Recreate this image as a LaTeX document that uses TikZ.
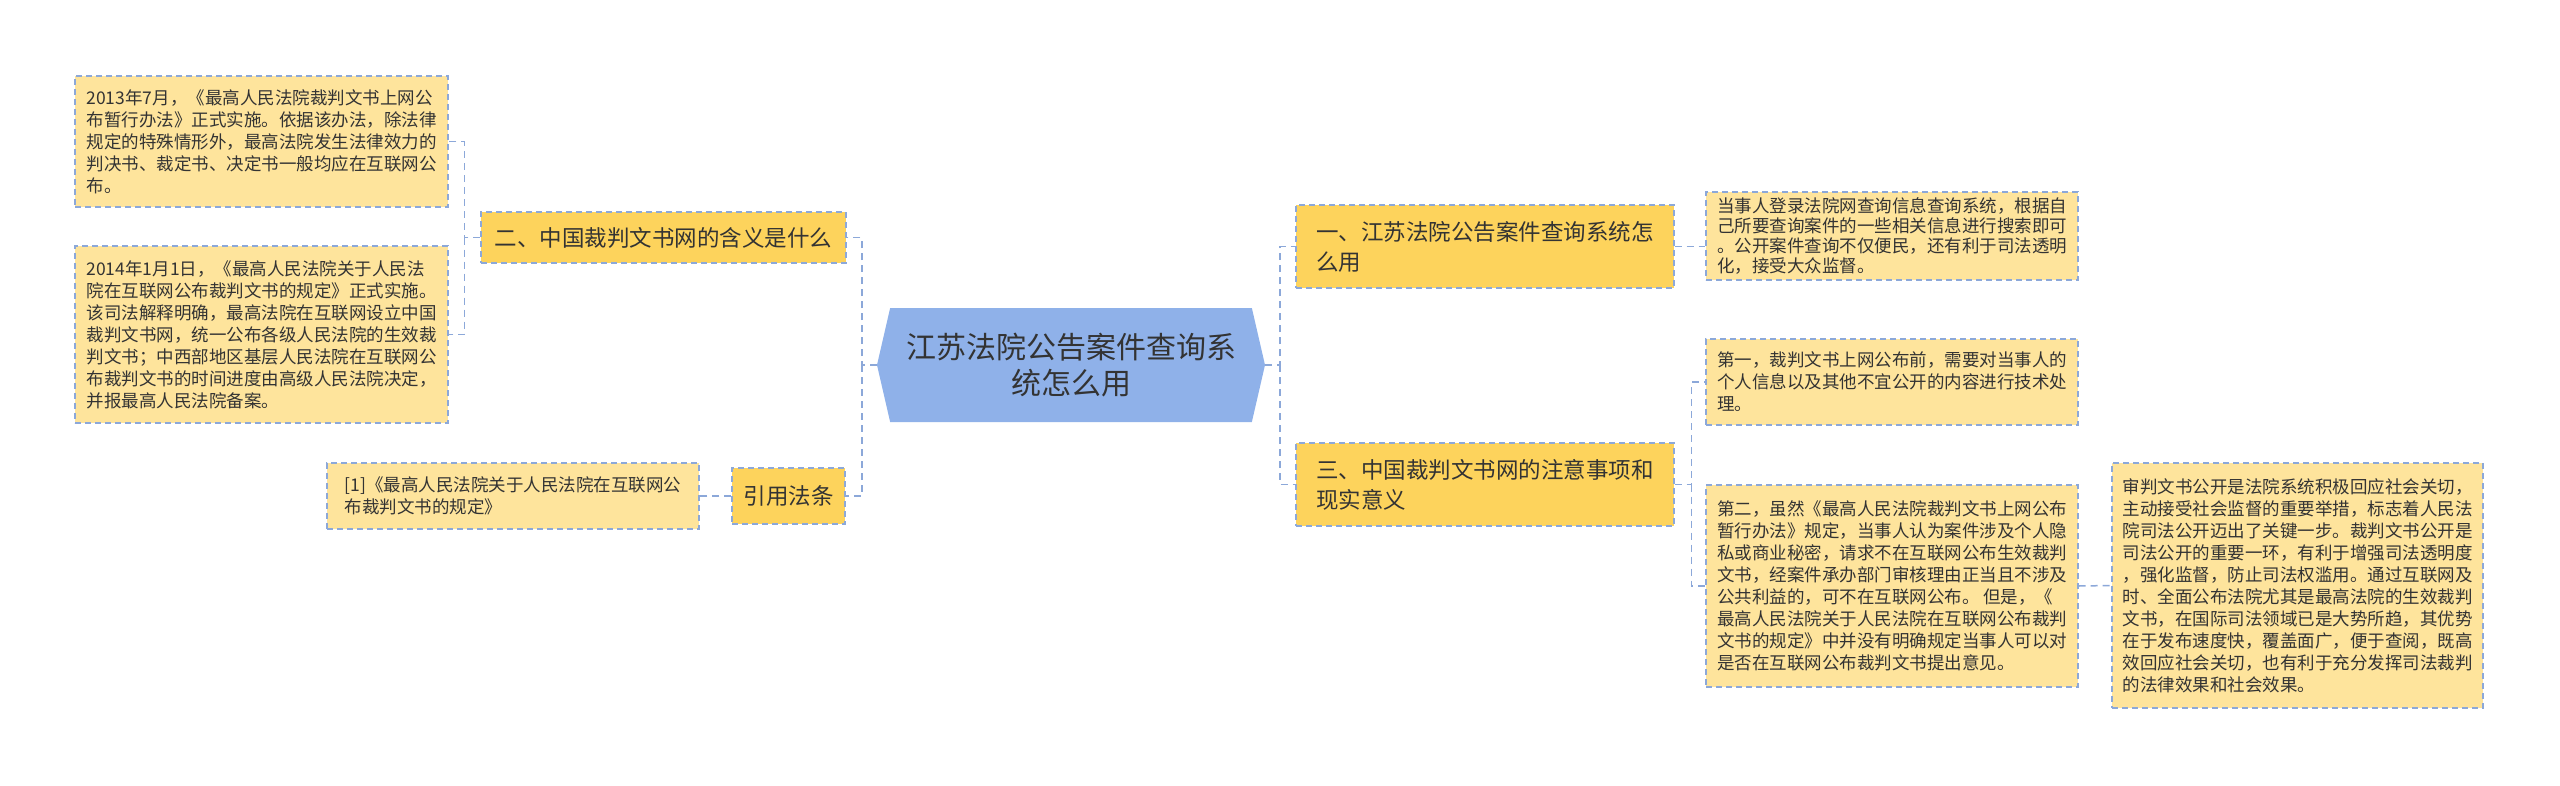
\documentclass[tikz,border=0pt]{standalone}
\usepackage{fontspec}
\setmainfont{Noto Sans CJK SC}
\usepackage{xcolor}
\usetikzlibrary{shapes.symbols}
\definecolor{rootblue}{HTML}{8FB1E9}
\definecolor{topicgold}{HTML}{FDD35C}
\definecolor{leafyellow}{HTML}{FEE49C}
\definecolor{edgeblue}{HTML}{8CA8D9}
\definecolor{inkgray}{HTML}{333333}

\begin{document}
\begin{tikzpicture}[x=1pt, y=-1pt,
    root/.style={signal, signal to=west and east, signal pointer angle=154, fill=rootblue, minimum width=388pt, minimum height=114pt, inner sep=0pt, align=center, text=inkgray, font=\fontsize{30}{36}\selectfont},
    topic/.style={rectangle, draw=edgeblue, line width=1.2pt, dash pattern=on 6pt off 4pt, fill=topicgold, inner sep=0pt, align=left, text=inkgray, font=\fontsize{22.5}{30}\selectfont},
    leaf/.style={rectangle, draw=edgeblue, line width=1.2pt, dash pattern=on 6pt off 4pt, fill=leafyellow, inner sep=0pt, align=left, text=inkgray, font=\fontsize{17.5}{22}\selectfont},
    link/.style={draw=edgeblue, line width=1.5pt, dash pattern=on 7pt off 5pt}
]
\fill[white] (0,0) rectangle (2560,785);
\useasboundingbox (0,0) rectangle (2560,785);
% centre
\node[root] (root) at (1071,365) {江苏法院公告案件查询系\\统怎么用};
% left branches
\node[topic, minimum width=365pt, minimum height=51pt] (t2) at (663.5,237.5) {二、中国裁判文书网的含义是什么};
\node[topic, minimum width=113pt, minimum height=56pt] (t4) at (788.5,496) {引用法条};
\node[leaf, minimum width=373pt, minimum height=131pt] (t2a) at (261.5,141.5) {2013年7月，《最高人民法院裁判文书上网公\\布暂行办法》正式实施。依据该办法，除法律\\规定的特殊情形外，最高法院发生法律效力的\\判决书、裁定书、决定书一般均应在互联网公\\布。};
\node[leaf, minimum width=373pt, minimum height=177pt] (t2b) at (261.5,334.5) {2014年1月1日，《最高人民法院关于人民法\\院在互联网公布裁判文书的规定》正式实施。\\该司法解释明确，最高法院在互联网设立中国\\裁判文书网，统一公布各级人民法院的生效裁\\判文书；中西部地区基层人民法院在互联网公\\布裁判文书的时间进度由高级人民法院决定，\\并报最高人民法院备案。};
\node[leaf, minimum width=372pt, minimum height=66pt] (t4a) at (513,496) {[1]《最高人民法院关于人民法院在互联网公\\布裁判文书的规定》};
% right branches
\node[topic, minimum width=378pt, minimum height=83pt] (t1) at (1485,246.5) {一、江苏法院公告案件查询系统怎\\么用};
\node[topic, minimum width=378pt, minimum height=83pt] (t3) at (1485,484.5) {三、中国裁判文书网的注意事项和\\现实意义};
\node[leaf, minimum width=372pt, minimum height=88pt, font=\fontsize{17.5}{20}\selectfont] (t1a) at (1892,236) {当事人登录法院网查询信息查询系统，根据自\\己所要查询案件的一些相关信息进行搜索即可\\。公开案件查询不仅便民，还有利于司法透明\\化，接受大众监督。};
\node[leaf, minimum width=372pt, minimum height=86pt] (t3a) at (1892,382) {第一，裁判文书上网公布前，需要对当事人的\\个人信息以及其他不宜公开的内容进行技术处\\理。};
\node[leaf, minimum width=372pt, minimum height=202pt] (t3b) at (1892,586) {第二，虽然《最高人民法院裁判文书上网公布\\暂行办法》规定，当事人认为案件涉及个人隐\\私或商业秘密，请求不在互联网公布生效裁判\\文书，经案件承办部门审核理由正当且不涉及\\公共利益的，可不在互联网公布。 但是，《\\最高人民法院关于人民法院在互联网公布裁判\\文书的规定》中并没有明确规定当事人可以对\\是否在互联网公布裁判文书提出意见。};
\node[leaf, minimum width=371pt, minimum height=245pt] (t3c) at (2297.5,585.5) {审判文书公开是法院系统积极回应社会关切，\\主动接受社会监督的重要举措，标志着人民法\\院司法公开迈出了关键一步。裁判文书公开是\\司法公开的重要一环，有利于增强司法透明度\\，强化监督，防止司法权滥用。通过互联网及\\时、全面公布法院尤其是最高法院的生效裁判\\文书，在国际司法领域已是大势所趋，其优势\\在于发布速度快，覆盖面广，便于查阅，既高\\效回应社会关切，也有利于充分发挥司法裁判\\的法律效果和社会效果。};
% connectors
\draw[link] (root.west) -- ++(-15,0) coordinate (jl) |- (t2.east);
\draw[link] (jl) |- (t4.east);
\draw[link] (t2.west) -- ++(-16,0) coordinate (j2) |- (t2a.east);
\draw[link] (j2) |- (t2b.east);
\draw[link] (t4.west) -- (t4a.east);
\draw[link] (root.east) -- ++(15,0) coordinate (jr) |- (t1.west);
\draw[link] (jr) |- (t3.west);
\draw[link] (t1.east) -- (t1.east -| t1a.west);
\draw[link] (t3.east) -- ++(17,0) coordinate (j3) |- (t3a.west);
\draw[link] (j3) |- (t3b.west);
\draw[link] (t3b.east) -- (t3c.west);
\end{tikzpicture}
\end{document}
